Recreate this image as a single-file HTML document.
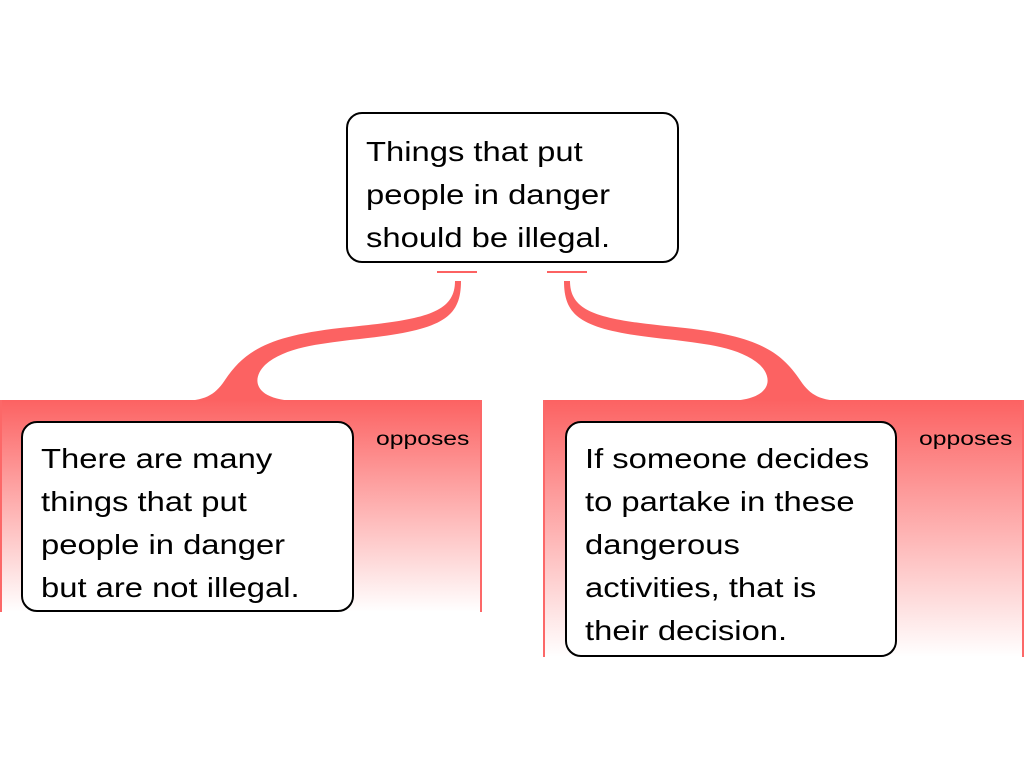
<!DOCTYPE html>
<html><head><style>
body{margin:0;width:1024px;height:768px;background:#fff;position:relative;overflow:hidden;font-family:"Liberation Sans",sans-serif;}
.box{position:absolute;background:#fff;border:2px solid #000;border-radius:16px;box-sizing:border-box;font-size:28px;line-height:43px;color:#000;padding:14px 0 0 18px;}
.box span{display:inline-block;transform:scaleX(1.17);transform-origin:left top;white-space:nowrap;}
.panel{position:absolute;background:linear-gradient(#fc6262,#ffffff);border-left:2px solid #fc6868;border-right:2px solid #fc6868;box-sizing:border-box;}
.op{position:absolute;font-size:19px;color:#000;transform:scaleX(1.3);transform-origin:left top;}
</style></head><body>
<div class="panel" style="left:0;top:400px;width:482px;height:212px"></div>
<div class="panel" style="left:543px;top:400px;width:481px;height:257px"></div>
<svg width="1024" height="768" style="position:absolute;left:0;top:0">
<g fill="#fc6262">
<path id="c" d="M455,281 C455,315 420,320 340,328 C270,336 245,350 225,380 C215,395 205,401 180,401 L300,401 C255,401 250,380 265,365 C285,347 320,344 350,340 C440,331 461,320 461,281 Z"/>
<use href="#c" transform="translate(1025,0) scale(-1,1)"/>
</g>
<line x1="437" y1="272" x2="477" y2="272" stroke="#fc6262" stroke-width="2"/>
<line x1="547" y1="272" x2="587" y2="272" stroke="#fc6262" stroke-width="2"/>
</svg>
<div class="box" style="left:346px;top:112px;width:333px;height:151px;padding-top:16px"><span>Things that put<br>people in danger<br>should be illegal.</span></div>
<div class="box" style="left:21px;top:421px;width:333px;height:191px"><span>There are many<br>things that put<br>people in danger<br>but are not illegal.</span></div>
<div class="box" style="left:565px;top:421px;width:332px;height:236px"><span>If someone decides<br>to partake in these<br>dangerous<br>activities, that is<br>their decision.</span></div>
<div class="op" style="left:376px;top:429px">opposes</div>
<div class="op" style="left:919px;top:429px">opposes</div>
</body></html>
